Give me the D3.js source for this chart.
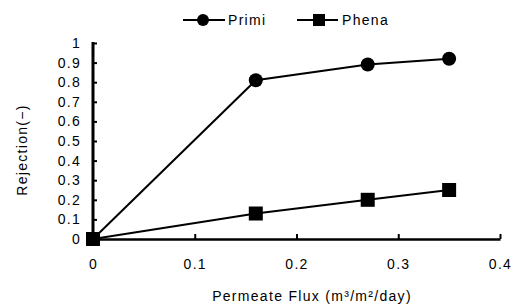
<!DOCTYPE html>
<html>
<head>
<meta charset="utf-8">
<script src="https://cdn.jsdelivr.net/npm/d3@7"></script>
<style>
  body { margin: 0; background: #fff; }
  svg { display: block; font-family: "Liberation Sans", Arial, sans-serif; }
  svg text { letter-spacing: 1.3px; }
</style>
</head>
<body>
<svg width="520" height="307"></svg>
<script>
// data
const flux = [0, 0.16, 0.27, 0.35];
const primi = [0, 0.81, 0.89, 0.92];
const phena = [0, 0.13, 0.20, 0.25];
const xTicks = [0, 0.1, 0.2, 0.3, 0.4];
const yTicks = [0, 0.1, 0.2, 0.3, 0.4, 0.5, 0.6, 0.7, 0.8, 0.9, 1];

const svg = d3.select('svg');

const x = d3.scaleLinear().domain([0, 0.4]).range([93, 500]);
const y = d3.scaleLinear().domain([0, 1]).range([239, 43]);

// y axis, ticks pointing inward
const yAxis = svg.append('g')
  .attr('transform', `translate(${x(0)},0)`)
  .call(d3.axisLeft(y).tickValues(yTicks).tickSizeInner(-4).tickSizeOuter(0)
    .tickPadding(12).tickFormat(d => d === 0 || d === 1 ? d : d3.format('.1f')(d)));
yAxis.select('.domain').attr('stroke', '#000').attr('stroke-width', 3)
  .attr('d', `M0,${y(1) - 1}V${y(0)}`);
yAxis.selectAll('.tick line').attr('stroke', '#000').attr('stroke-width', 2);
yAxis.selectAll('.tick text').attr('font-size', 14).attr('fill', '#000')
  .attr('font-family', '"Liberation Sans", Arial, sans-serif');

// x axis, ticks pointing up
const xAxis = svg.append('g')
  .attr('transform', `translate(0,${y(0)})`)
  .call(d3.axisBottom(x).tickValues(xTicks).tickSizeInner(-5).tickSizeOuter(0)
    .tickPadding(20).tickFormat(d => d === 0 ? '0' : d3.format('.1f')(d)));
xAxis.select('.domain').attr('stroke', '#000').attr('stroke-width', 2.5);
xAxis.selectAll('.tick line').attr('stroke', '#000').attr('stroke-width', 2);
xAxis.selectAll('.tick text').attr('font-size', 14).attr('fill', '#000')
  .attr('font-family', '"Liberation Sans", Arial, sans-serif');

// axis titles
svg.append('text')
  .attr('transform', `translate(27,150) rotate(-90)`)
  .attr('text-anchor', 'middle')
  .attr('font-size', 14)
  .text('Rejection(\u2212)');

svg.append('text')
  .attr('x', 312).attr('y', 301)
  .attr('text-anchor', 'middle')
  .attr('font-size', 14)
  .text('Permeate Flux (m\u00b3/m\u00b2/day)');

// series
const line = d3.line().x(d => x(d[0])).y(d => y(d[1]));
const primiPts = flux.map((f, i) => [f, primi[i]]);
const phenaPts = flux.map((f, i) => [f, phena[i]]);

svg.append('path').datum(primiPts)
  .attr('fill', 'none').attr('stroke', '#000').attr('stroke-width', 2)
  .attr('d', line);
svg.append('path').datum(phenaPts)
  .attr('fill', 'none').attr('stroke', '#000').attr('stroke-width', 2)
  .attr('d', line);

svg.append('g').selectAll('circle')
  .data(primiPts)
  .join('circle')
  .attr('cx', d => x(d[0])).attr('cy', d => y(d[1]))
  .attr('r', 7).attr('fill', '#000');

svg.append('g').selectAll('rect')
  .data(phenaPts)
  .join('rect')
  .attr('x', d => x(d[0]) - 7).attr('y', d => y(d[1]) - 7)
  .attr('width', 14).attr('height', 14).attr('fill', '#000');

// legend
const legend = svg.append('g');
const lp = legend.append('g').attr('transform', 'translate(183,20)');
lp.append('line').attr('x1', 0).attr('x2', 42).attr('stroke', '#000').attr('stroke-width', 2);
lp.append('circle').attr('cx', 20).attr('r', 6).attr('fill', '#000');
lp.append('text').attr('x', 45).attr('dy', '0.35em').attr('font-size', 14).text('Primi');

const lh = legend.append('g').attr('transform', 'translate(297,20)');
lh.append('line').attr('x1', 0).attr('x2', 41).attr('stroke', '#000').attr('stroke-width', 2);
lh.append('rect').attr('x', 16).attr('y', -6).attr('width', 12).attr('height', 12).attr('fill', '#000');
lh.append('text').attr('x', 45).attr('dy', '0.35em').attr('font-size', 14).text('Phena');
</script>
</body>
</html>
